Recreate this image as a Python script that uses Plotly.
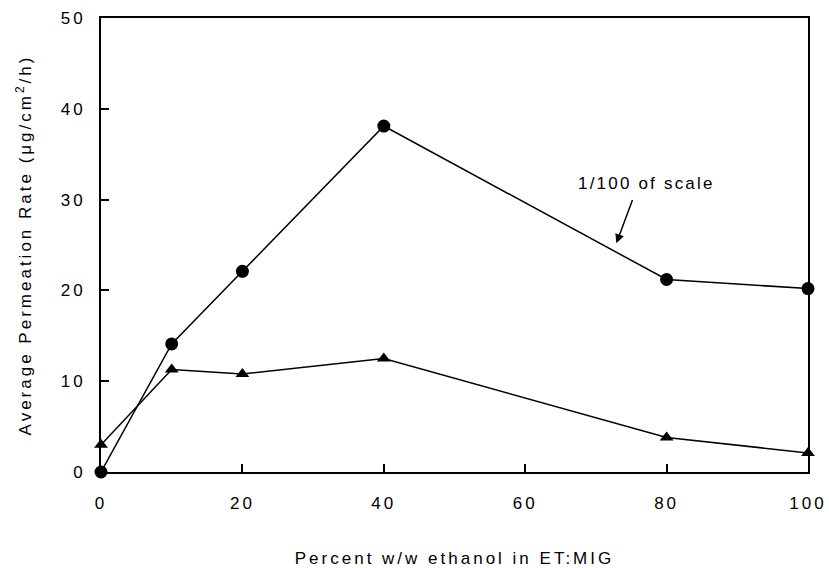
import plotly.graph_objects as go

ethanol_pct = [0, 10, 20, 40, 80, 100]
rate_circles = [0.0, 14.1, 22.1, 38.1, 21.2, 20.2]
rate_triangles = [3.0, 11.3, 10.8, 12.5, 3.8, 2.1]
x_ticks = [0, 20, 40, 60, 80, 100]
y_ticks = [0, 10, 20, 30, 40, 50]

FONT = "Liberation Sans, Arial, Helvetica, sans-serif"


def spaced(t, s):
    return f'<span style="letter-spacing:{s}px">{t}</span>'


fig = go.Figure()
fig.add_trace(go.Scatter(
    x=ethanol_pct, y=rate_circles, mode="lines+markers",
    line=dict(color="black", width=1.5),
    marker=dict(symbol="circle", size=13, color="black"),
    cliponaxis=False, showlegend=False))
fig.add_trace(go.Scatter(
    x=ethanol_pct, y=rate_triangles, mode="lines+markers",
    line=dict(color="black", width=1.5),
    marker=dict(symbol="triangle-up", size=12, color="black"),
    cliponaxis=False, showlegend=False))

fig.add_annotation(x=77.15, y=31.8, text=spaced("1/100 of scale", 2.2), showarrow=False,
                   font=dict(family=FONT, size=17, color="black"))
fig.add_annotation(x=72.9, y=25.2, ax=75.2, ay=30.0, xref="x", yref="y",
                   axref="x", ayref="y", text="", showarrow=True, standoff=0,
                   font=dict(size=1), borderpad=0,
                   arrowhead=2, arrowsize=1.2, arrowwidth=1.5, arrowcolor="black")

fig.update_xaxes(range=[0, 100], tickvals=x_ticks,
                 ticktext=[spaced(str(v), 3) for v in x_ticks],
                 ticks="inside", ticklen=8, ticklabeloverflow="allow",
                 tickwidth=1.5, tickcolor="black", showline=True, linecolor="black",
                 linewidth=2, mirror=True, showgrid=False, zeroline=False,
                 ticklabelstandoff=15,
                 tickfont=dict(family=FONT, size=17, color="black"),
                 title=dict(text=spaced("Percent w/w ethanol in ET:MIG", 3), standoff=50,
                            font=dict(family=FONT, size=17, color="black")))
fig.update_yaxes(range=[0, 50], tickvals=y_ticks,
                 ticktext=[spaced(str(v), 3) for v in y_ticks],
                 ticks="inside", ticklen=8, ticklabeloverflow="allow",
                 tickwidth=1.5, tickcolor="black", showline=True, linecolor="black",
                 linewidth=2, mirror=True, showgrid=False, zeroline=False,
                 ticklabelstandoff=10,
                 tickfont=dict(family=FONT, size=17, color="black"),
                 title=dict(text=spaced("Average Permeation Rate (μg/cm<sup>2</sup>/h)", 3),
                            standoff=25,
                            font=dict(family=FONT, size=17, color="black")))

fig.update_layout(width=829, height=568, plot_bgcolor="white", paper_bgcolor="white",
                  hovermode=False,
                  margin=dict(l=101, r=21, t=18, b=96, autoexpand=False))

fig.write_html("out.html", config={"displayModeBar": False},
               post_script="document.body.style.margin='0';")
